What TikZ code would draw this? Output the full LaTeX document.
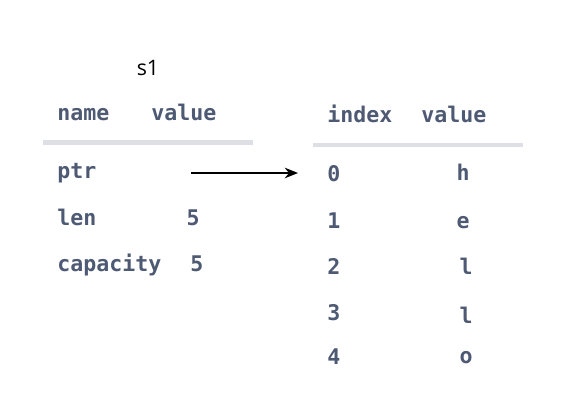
\documentclass[tikz,border=0pt]{standalone}
\usepackage{fontspec}
\setmainfont{Open Sans}
\setmonofont{DejaVu Sans Mono}
\usetikzlibrary{arrows.meta}
\definecolor{txt}{RGB}{78,90,115}
\definecolor{rulec}{RGB}{222,223,228}
\tikzset{
  cell/.style={font=\ttfamily\bfseries\fontsize{16.2}{19}\selectfont, text=txt, inner sep=0pt},
  lcell/.style={cell, anchor=base west},
  ccell/.style={cell, anchor=base},
  hrule/.style={draw=rulec, line width=3.5pt},
  ptrarrow/.style={-{Stealth[length=10pt,width=8pt]}, line width=1.1pt, black}
}
\begin{document}
\begin{tikzpicture}[x=0.75pt,y=-0.75pt]
\useasboundingbox (0,0) rectangle (578,418);
% left table
\node[font=\fontsize{16}{19}\selectfont, anchor=base, inner sep=0pt] (s1) at (148,75) {s1};
\node[lcell] (hname) at (57,120) {name};
\node[lcell] (hval) at (151,120) {value};
\coordinate (lr1) at (43,142.5);
\coordinate (lr2) at (253,142.5);
\draw[hrule] (lr1) -- (lr2);
\node[lcell] (ptr) at (57,178) {ptr};
\node[lcell] (len) at (57,225) {len};
\node[lcell] (cap) at (57,271) {capacity};
\node[ccell] (lenv) at (193,225) {5};
\node[ccell] (capv) at (197,271) {5};
% right table
\node[lcell] (hidx) at (327,122) {index};
\node[lcell] (hval2) at (421,122) {value};
\coordinate (rr1) at (313,145);
\coordinate (rr2) at (523,145);
\draw[hrule] (rr1) -- (rr2);
\node[lcell] (i0) at (327,181) {0};
\node[lcell] (i1) at (327,228) {1};
\node[lcell] (i2) at (327,274) {2};
\node[lcell] (i3) at (327,320) {3};
\node[lcell] (i4) at (327,364) {4};
\node[ccell] (v0) at (463,180) {h};
\node[ccell] (v1) at (463,228) {e};
\node[ccell] (v2) at (466,274) {l};
\node[ccell] (v3) at (466,323) {l};
\node[ccell] (v4) at (466,363) {o};
% pointer
\coordinate (ptrv) at (191,173);
\coordinate (cell0) at (298,173);
\draw[ptrarrow] (ptrv) -- (cell0);
\end{tikzpicture}
\end{document}
